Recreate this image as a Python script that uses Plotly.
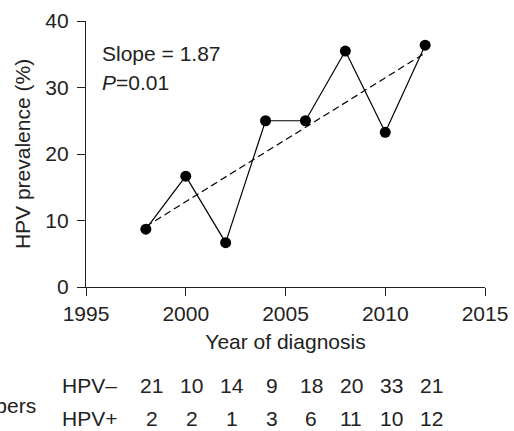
import numpy as np
import plotly.graph_objects as go

years = [1998, 2000, 2002, 2004, 2006, 2008, 2010, 2012]
hpv_neg = [21, 10, 14, 9, 18, 20, 33, 21]
hpv_pos = [2, 2, 1, 3, 6, 11, 10, 12]
prevalence = [100 * p / (p + n) for p, n in zip(hpv_pos, hpv_neg)]

slope, intercept = np.polyfit(years, prevalence, 1)
trend_x = [years[0], years[-1]]
trend_y = [slope * x + intercept for x in trend_x]

FONT = "Liberation Sans, Arial, Helvetica, sans-serif"
TXT = "#222"
FS = 21

fig = go.Figure()
fig.add_trace(go.Scatter(x=trend_x, y=trend_y, mode="lines",
                         line=dict(color="black", width=1.2, dash="7px,4px"),
                         hoverinfo="skip", cliponaxis=False))
fig.add_trace(go.Scatter(x=years, y=prevalence, mode="lines+markers",
                         line=dict(color="black", width=1.2),
                         marker=dict(color="black", size=11),
                         cliponaxis=False))

W, H = 514, 431
L, R, T, B = 86, 29, 21, 144
pw = W - L - R
ph = H - T - B

def px_to_paper_x(px):
    return (px - L) / pw

def px_to_paper_y(py):
    return (H - B - py) / ph

def note(text, x, y, xanchor="left", size=FS, xref="paper", xshift=0):
    return dict(text=text, xref=xref, yref="paper", x=x, y=px_to_paper_y(y),
                xanchor=xanchor, yanchor="middle", showarrow=False, xshift=xshift,
                font=dict(size=size, family=FONT, color=TXT))

annotations = [
    note("Slope = 1.87", px_to_paper_x(100), 53),
    note("<i>P</i>=0.01", px_to_paper_x(100), 82),
    note("HPV–", px_to_paper_x(60), 385),
    note("HPV+", px_to_paper_x(60), 418),
    note("Numbers", px_to_paper_x(38), 405, xanchor="right"),
]
for yr, n, p in zip(years, hpv_neg, hpv_pos):
    annotations.append(note(str(n), yr, 385, xanchor="center", xref="x", xshift=6))
    annotations.append(note(str(p), yr, 418, xanchor="center", xref="x", xshift=6))

axis_common = dict(showgrid=False, zeroline=False, showline=True, linecolor=TXT,
                   linewidth=1.2, ticks="outside", ticklen=8, tickcolor=TXT,
                   tickwidth=1.2, automargin=False,
                   tickfont=dict(size=FS, family=FONT, color=TXT))

fig.update_layout(
    width=W, height=H, autosize=False,
    margin=dict(l=L, r=R, t=T, b=B, autoexpand=False),
    plot_bgcolor="white", paper_bgcolor="white",
    showlegend=False,
    font=dict(family=FONT, size=FS, color=TXT),
    annotations=annotations,
    xaxis=dict(range=[1995, 2015], tickvals=[1995, 2000, 2005, 2010, 2015],
               title=dict(text="Year of diagnosis", standoff=10,
                          font=dict(size=FS, family=FONT, color=TXT)),
               **axis_common),
    yaxis=dict(range=[0, 40], tickvals=[0, 10, 20, 30, 40],
               ticklabelstandoff=4,
               title=dict(text="HPV prevalence (%)", standoff=8,
                          font=dict(size=FS, family=FONT, color=TXT)),
               **axis_common),
)

fig.write_html(
    "out.html",
    config={"displayModeBar": False, "responsive": False},
    post_script="document.body.style.margin='0';document.body.style.overflow='hidden';",
)
